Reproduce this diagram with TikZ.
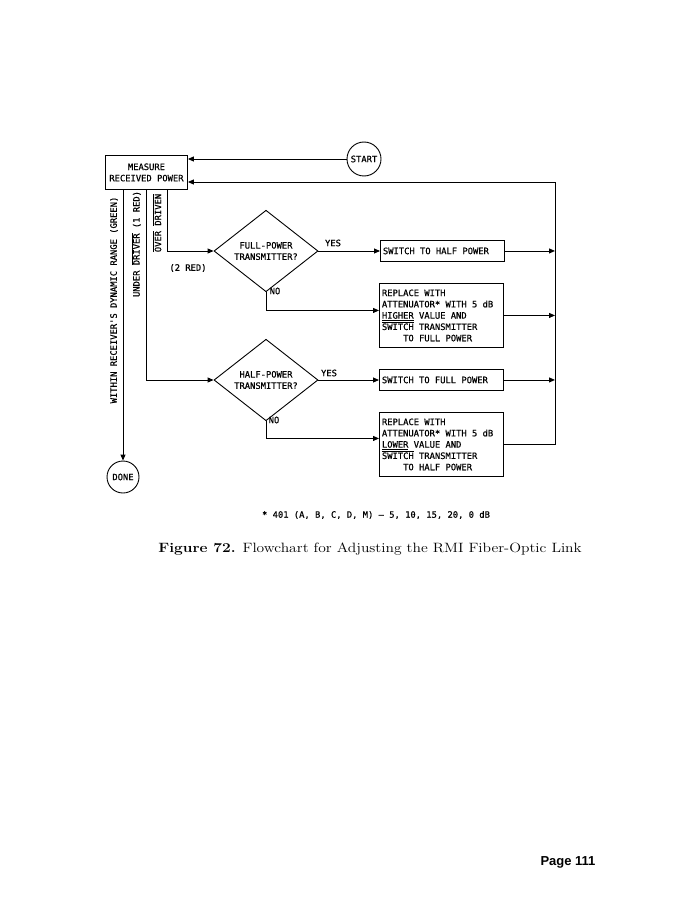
\documentclass[tikz,border=0pt]{standalone}
\usepackage{fontspec}
\setmainfont{Latin Modern Roman}
\newfontfamily\flowfont[WordSpace={1,0,0},FakeBold=0.6]{DejaVu Sans Mono}
\newfontfamily\pagefont{Liberation Sans}
\usetikzlibrary{arrows.meta,shapes.geometric}
\newcommand{\flowsize}{\flowfont\fontsize{8.8}{11.3}\selectfont}
\newcommand{\fixspaces}{\spaceskip=5.3pt\relax\xspaceskip=5.3pt\relax}
\newcommand{\normalspaces}{\spaceskip=0pt\relax\xspaceskip=0pt\relax}
\begin{document}
\begin{tikzpicture}[x=1pt,y=-1pt,
  every node/.style={font=\flowsize,execute at begin node=\fixspaces},
  conn/.style={line width=0.9pt},
  arr/.style={conn,-{Triangle[length=6pt,width=5pt]}},
  procbox/.style={draw,line width=0.9pt,anchor=north west,align=left,inner xsep=2.5pt,inner ysep=0pt,text width=119pt},
  decision/.style={draw,line width=0.9pt,diamond,minimum width=104pt,minimum height=70pt,inner sep=0pt,align=center},
  term/.style={draw,line width=0.9pt,circle,inner sep=0pt},
  lbl/.style={inner sep=0pt},
  prose/.style={inner sep=0pt,execute at begin node=\normalspaces}]
\useasboundingbox (0,0) rectangle (677,917);

% nodes
\node[draw,line width=0.9pt,minimum width=82pt,minimum height=34pt,inner sep=0pt,align=center,anchor=north west] (measure) at (105,155) {MEASURE\\RECEIVED POWER};
\node[term,minimum size=34pt] (start) at (364,159) {START};
\node[term,minimum size=32pt] (done) at (123,477) {DONE};

\node[decision] (d1) at (266,251) {FULL-POWER\\TRANSMITTER?};
\node[decision] (d2) at (266,380) {HALF-POWER\\TRANSMITTER?};

\node[procbox,minimum height=21pt] (sh) at (380,240) {SWITCH TO HALF POWER};
\node[procbox,minimum height=64pt] (r1) at (379,283) {REPLACE WITH\\ATTENUATOR* WITH 5 dB\\\underline{HIGHER} VALUE AND\\$\overline{\mbox{SWITCH}}$ TRANSMITTER\\\phantom{XXXX}TO FULL POWER};
\node[procbox,minimum height=21pt] (sf) at (379,369) {SWITCH TO FULL POWER};
\node[procbox,minimum height=64pt] (r2) at (379,412) {REPLACE WITH\\ATTENUATOR* WITH 5 dB\\\underline{LOWER} VALUE AND\\$\overline{\mbox{SWITCH}}$ TRANSMITTER\\\phantom{XXXX}TO HALF POWER};

\coordinate (fbtop) at (555,182);

% connectors
\draw[arr] (start.west) -- (start.west -| measure.east);
\draw[arr] (fbtop) -- (fbtop -| measure.east);
\draw[conn] (r2.east) -| (fbtop);
\draw[arr] (sh.east) -- (sh.east -| fbtop);
\draw[arr] (r1.east) -- (r1.east -| fbtop);
\draw[arr] (sf.east) -- (sf.east -| fbtop);
\draw[arr] (d1.east) -- (d1.east -| sh.west);
\draw[arr] (d2.east) -- (d2.east -| sf.west);
\draw[arr] (d1.south) |- ([yshift=5pt]r1.west);
\draw[arr] (d2.south) |- ([yshift=6pt]r2.west);
\draw[arr] ([xshift=18pt]measure.south west) -- (done.north);
\draw[arr] (measure.south) |- (d2.west);
\draw[arr] ([xshift=-20pt]measure.south east) |- (d1.west);

% labels
\node[lbl,rotate=90] (lw) at (114,300) {WITHIN RECEIVER'S DYNAMIC RANGE (GREEN)};
\node[lbl,rotate=90] (lu) at (136,244) {UNDER $\overline{\mbox{DRIVER}}$ (1 RED)};
\node[lbl,rotate=90] (lo) at (157,223) {$\overline{\mbox{OVER}}$ $\overline{\mbox{DRIVEN}}$};
\node[lbl] (l2r) at (188,268) {(2 RED)};
\node[lbl] (y1) at (333,243) {YES};
\node[lbl] (n1) at (275,291) {NO};
\node[lbl] (y2) at (329,373) {YES};
\node[lbl] (n2) at (274,420) {NO};

\node[lbl] (foot) at (376,515) {* 401 (A, B, C, D, M) – 5, 10, 15, 20, 0 dB};
\node[prose,font=\rmfamily\fontsize{13.5}{15}\selectfont,xscale=1.15] (cap) at (370,549) {\textbf{Figure 72.} Flowchart for Adjusting the RMI Fiber-Optic Link};
\node[prose,font=\pagefont\bfseries\fontsize{13}{15}\selectfont] (page) at (568,862) {Page 111};
\end{tikzpicture}
\end{document}
